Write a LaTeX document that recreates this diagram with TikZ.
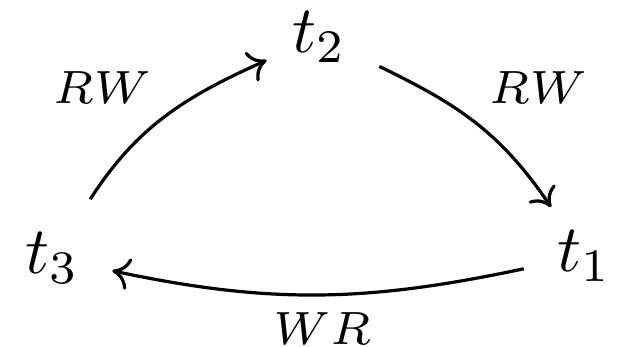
\documentclass[tikz,border=0pt]{standalone}
\usetikzlibrary{arrows.meta}
\begin{document}
\begin{tikzpicture}[x=0.15pt,y=-0.15pt,
  tnode/.style={inner sep=0pt, outer sep=5pt, font=\normalsize},
  lbl/.style={inner sep=0pt, font=\scriptsize},
  arr/.style={-{Computer Modern Rightarrow[length=2.6pt,width=4.8pt]}, line width=0.48pt}]
\useasboundingbox (0,0) rectangle (619,347);
\node[tnode] (t2) at (319,37) {$t_2$};
\node[tnode] (t1) at (584,256) {$t_1$};
\node[tnode] (t3) at (52,258) {$t_3$};
\node[lbl] (l1) at (102,88) {$RW$};
\node[lbl] (l2) at (538,88) {$RW$};
\node[lbl] (l3) at (322,329) {$WR$};
\draw[arr, shorten >=-1.3pt] (t3) to[out=57,in=204] (t2);
\draw[arr, shorten >=-1.8pt] (t2) to[out=-26,in=124] (t1);
\draw[arr] (t1) to[out=192,in=-12] (t3);
\end{tikzpicture}
\end{document}
